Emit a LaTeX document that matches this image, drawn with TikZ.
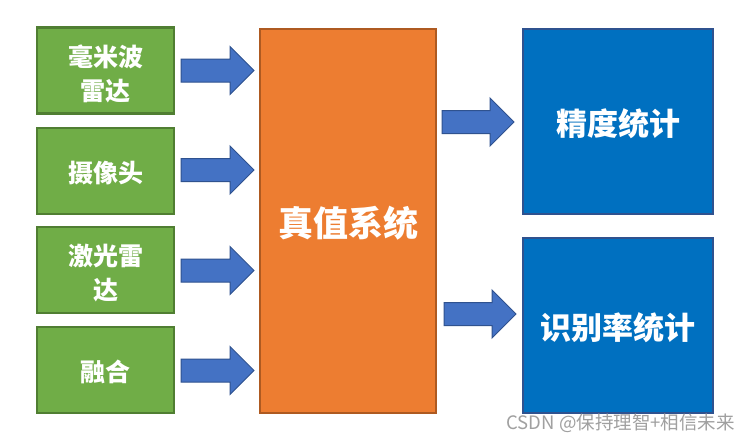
\documentclass[tikz,border=0pt]{standalone}
\usepackage{fontspec}
\newfontfamily\cjk{Noto Sans CJK SC}
\usetikzlibrary{calc}
\definecolor{gfill}{HTML}{70AD47}
\definecolor{gline}{HTML}{507E32}
\definecolor{ofill}{HTML}{ED7D31}
\definecolor{oline}{HTML}{AE5A21}
\definecolor{bfill}{HTML}{0070C0}
\definecolor{bline}{HTML}{2F528F}
\definecolor{afill}{HTML}{4472C4}
\definecolor{wmark}{HTML}{A0A0A0}
\tikzset{
  box/.style={draw, line width=2.5pt, inner sep=0pt, align=center, text=white,
    font=\cjk\bfseries},
  gbox/.style={box, fill=gfill, draw=gline, minimum width=137pt, minimum height=86pt,
    font=\cjk\bfseries\fontsize{25pt}{34pt}\selectfont},
  obox/.style={box, fill=ofill, draw=oline, minimum width=176pt, minimum height=384pt,
    font=\cjk\bfseries\fontsize{35pt}{40pt}\selectfont},
  bbox/.style={box, fill=bfill, draw=bline, minimum width=190pt,
    font=\cjk\bfseries\fontsize{31pt}{36pt}\selectfont},
  barrow/.style={fill=afill, draw=bline, line width=1pt, line join=miter},
  lbl/.style={inner sep=0pt, align=center, text=white},
}
\newcommand\myblockarrow[3]{%
  \draw[barrow] (#1,{#3-11.5}) -- ({#2-24},{#3-11.5}) -- ({#2-24},{#3-24}) -- (#2,#3)
    -- ({#2-24},{#3+24}) -- ({#2-24},{#3+11.5}) -- (#1,{#3+11.5}) -- cycle;}
\begin{document}
\begin{tikzpicture}[x=1pt,y=-1pt]
\useasboundingbox (0,0) rectangle (750,442);
\fill[white] (0,0) rectangle (750,442);
% green input boxes
\node[gbox] (radar) at (105.5,70.5) {};
\node[gbox] (cam) at (105.5,171) {};
\node[gbox] (lidar) at (105.5,270) {};
\node[gbox] (fusion) at (105.5,370) {};
\node[lbl, font=\cjk\bfseries\fontsize{25pt}{34pt}\selectfont] (radarT) at ($(radar)+(0,3)$) {毫米波\\雷达};
\node[lbl, font=\cjk\bfseries\fontsize{25pt}{34pt}\selectfont] (camT) at ($(cam)+(0,2)$) {摄像头};
\node[lbl, font=\cjk\bfseries\fontsize{25pt}{34pt}\selectfont] (lidarT) at ($(lidar)+(0,3)$) {激光雷\\达};
\node[lbl, font=\cjk\bfseries\fontsize{25pt}{34pt}\selectfont] (fusionT) at ($(fusion)+(0,2)$) {融合};
% central box
\node[obox] (truth) at (348,221) {};
\node[lbl, font=\cjk\bfseries\fontsize{35pt}{40pt}\selectfont] (truthT) at ($(truth)+(0,2)$) {真值系统};
% output boxes
\node[bbox, minimum height=185pt] (acc) at (618,121.5) {};
\node[bbox, minimum height=175pt] (rec) at (618,325.5) {};
\node[lbl, font=\cjk\bfseries\fontsize{31pt}{36pt}\selectfont] (accT) at ($(acc)+(0,2)$) {精度统计};
\node[lbl, font=\cjk\bfseries\fontsize{31pt}{36pt}\selectfont] (recT) at ($(rec)+(0,2)$) {识别率统计};
% block arrows
\myblockarrow{181}{254}{70.5}
\myblockarrow{181}{254}{170}
\myblockarrow{181}{254}{270.5}
\myblockarrow{181}{254}{370.5}
\myblockarrow{442}{514}{122}
\myblockarrow{444}{516}{314}
% watermark
\node[anchor=east, inner sep=0pt, text=wmark, font=\cjk\fontsize{18.5pt}{20pt}\selectfont] (wm) at (735,423) {CSDN @保持理智+相信未来};
\end{tikzpicture}
\end{document}
